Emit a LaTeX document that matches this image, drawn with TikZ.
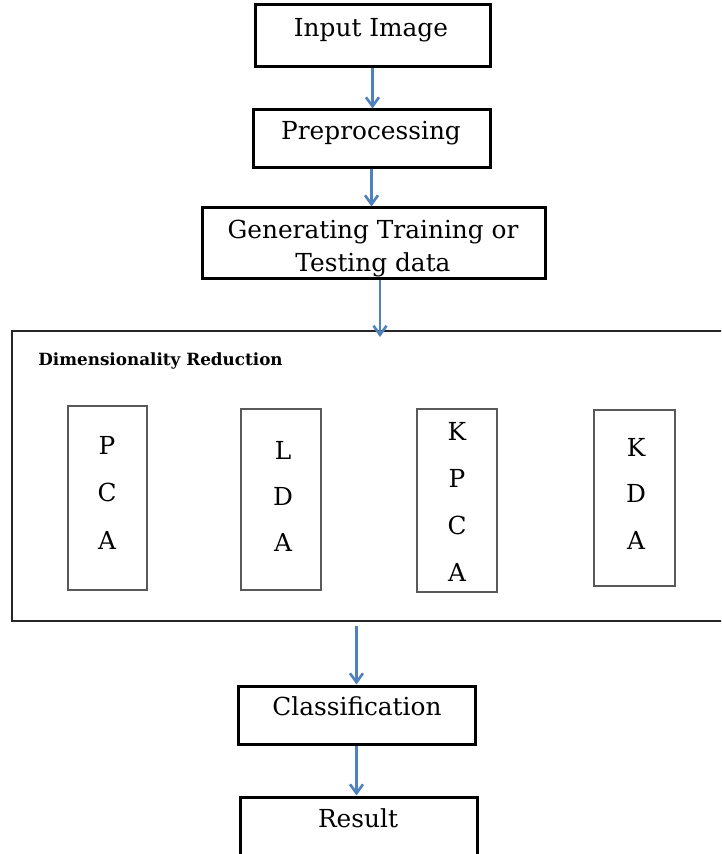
\documentclass[tikz,border=0pt]{standalone}
\usepackage{fontspec}
\setmainfont{DejaVu Serif}
\usetikzlibrary{arrows.meta}
\definecolor{flowblue}{RGB}{79,129,189}

\tikzset{
  stage/.style={draw, line width=1.5pt, rectangle, inner sep=0pt},
  algo/.style={draw=black!65, line width=0.8pt, rectangle, inner sep=0pt},
  label/.style={anchor=base, inner sep=0pt, font=\fontsize{12.4}{15}\selectfont},
  flow/.style={flowblue, line width=1.3pt, -{Straight Barb[length=4.5pt,width=6.5pt]}},
}

\begin{document}
\begin{tikzpicture}[x=0.5pt,y=-0.5pt]
\useasboundingbox (0,0) rectangle (721,854);
\clip (0,0) rectangle (721,854);

% main stages
\node[stage, minimum width=117.5pt, minimum height=31pt] (inp) at (372.5,36) {};
\node[stage, minimum width=118.5pt, minimum height=29pt] (pre) at (371.5,139) {};
\node[stage, minimum width=171.5pt, minimum height=35.5pt] (gen) at (373.5,243.5) {};
\node[draw=black!85, line width=1pt, minimum width=355.5pt, minimum height=145pt, inner sep=0pt] (dr) at (367.5,476) {};
\node[stage, minimum width=118.5pt, minimum height=29pt] (cls) at (356.5,715) {};
\node[stage, minimum width=118.5pt, minimum height=32pt] (res) at (358.5,829) {};

\node[label] (inptxt) at (371,37) {Input Image};
\node[label] (pretxt) at (371,140) {Preprocessing};
\node[label] (gentxt) at (373,239) {Generating Training or};
\node[label] (gentxtb) at (373,272) {Testing data};
\node[label, anchor=base west, font=\fontsize{8.4}{10}\selectfont\bfseries] (drtxt) at (38,366) {Dimensionality Reduction};
\node[label] (clstxt) at (357,715) {Classification};
\node[label] (restxt) at (358,827) {Result};

% the four methods
\node[algo, minimum width=39.5pt, minimum height=92pt] (pca) at (107.5,498) {};
\node[algo, minimum width=40pt, minimum height=90.5pt] (lda) at (281,499.5) {};
\node[algo, minimum width=40pt, minimum height=91.5pt] (kpca) at (457,500.5) {};
\node[algo, minimum width=40.5pt, minimum height=88pt] (kda) at (634.5,498) {};

\foreach \l [count=\i] in {P,C,A}
  \node[label] (pca\i) at (107,454+47.5*\i-47.5) {\l};
\foreach \l [count=\i] in {L,D,A}
  \node[label] (lda\i) at (283,459+46*\i-46) {\l};
\foreach \l [count=\i] in {K,P,C,A}
  \node[label] (kpca\i) at (457,440+47*\i-47) {\l};
\foreach \l [count=\i] in {K,D,A}
  \node[label] (kda\i) at (636,456+46.5*\i-46.5) {\l};

% arrows
\coordinate (d3) at (380,337);
\draw[flow] (inp.south) -- (inp.south |- pre.north);
\draw[flow] (pre.south) -- (pre.south |- gen.north);
\draw[flow] (gen.south -| d3) -- (d3);
\draw[flow] ([yshift=-2pt]dr.south -| cls.north) -- (cls.north);
\draw[flow] (cls.south) -- (cls.south |- res.north);
\end{tikzpicture}
\end{document}
